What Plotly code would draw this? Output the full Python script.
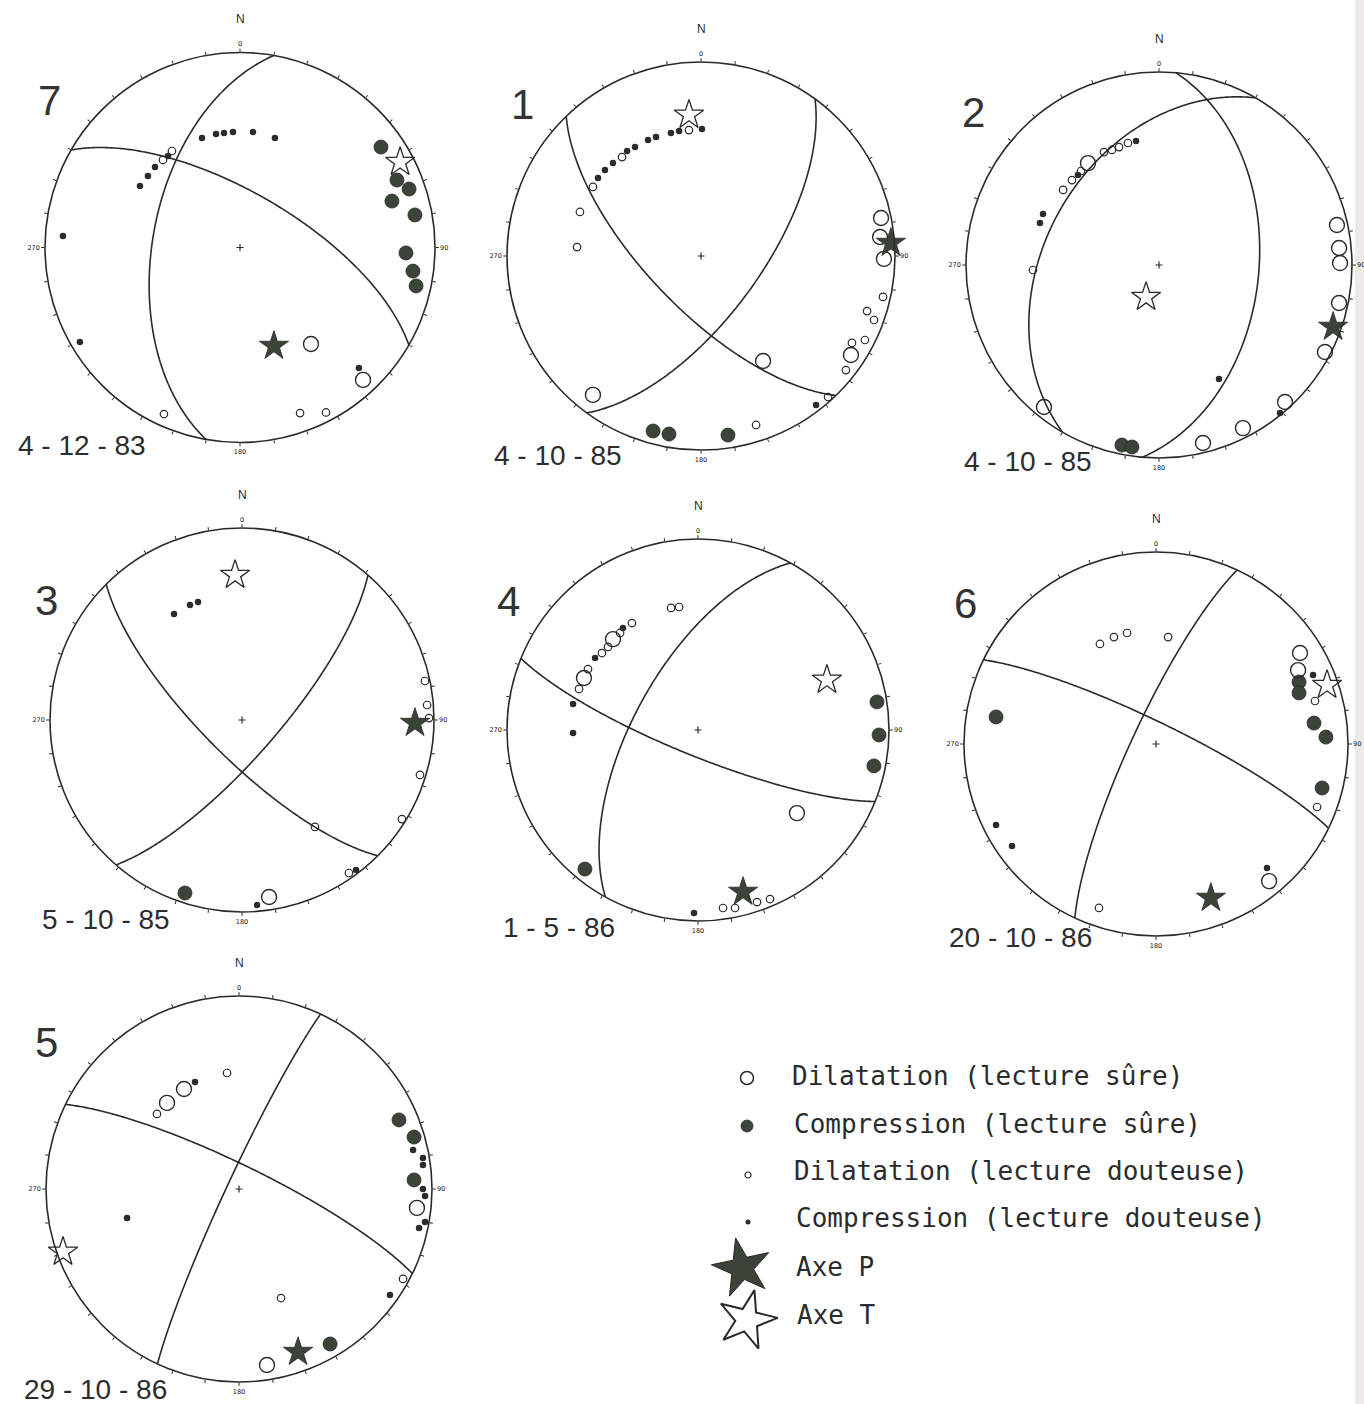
import numpy as np
import plotly.graph_objects as go

# Fault-plane solutions, lower hemisphere, equal-area (Schmidt) net.
# Polarity readings are stored as (east, north) positions on the unit net.

W, H = 1364, 1404

mech_numbers = ["7", "1", "2", "3", "4", "6", "5"]
mech_dates = ["4 - 12 - 83", "4 - 10 - 85", "4 - 10 - 85", "5 - 10 - 85",
              "1 - 5 - 86", "20 - 10 - 86", "29 - 10 - 86"]

# Nodal planes: (strike, dip) in degrees, dip to the right of strike
planes_m7 = [(190, 53), (300, 67)]
planes_m1 = [(136, 68), (36, 65)]
planes_m2 = [(5, 47), (210, 41)]
planes_m3 = [(135, 74), (41, 75)]
planes_m4 = [(112, 79), (209, 63)]
planes_m6 = [(296, 81), (205, 80)]
planes_m5 = [(296, 80), (205, 85)]

# --- mechanism 7 ---
m7_dil_sure = [(0.364, -0.495), (0.631, -0.679)]
m7_comp_sure = [(0.723, 0.515), (0.805, 0.346), (0.867, 0.300), (0.779, 0.238),
                (0.897, 0.167), (0.851, -0.028), (0.887, -0.121), (0.903, -0.197)]
m7_dil_doubt = [(-0.395, 0.449), (-0.349, 0.495), (-0.390, -0.854), (0.308, -0.849),
                (0.441, -0.846)]
m7_comp_doubt = [(-0.195, 0.562), (-0.123, 0.582), (-0.082, 0.587), (-0.036, 0.592),
                 (0.067, 0.592), (0.179, 0.562), (-0.513, 0.315), (-0.472, 0.367),
                 (-0.436, 0.413), (-0.369, 0.469), (-0.908, 0.059), (-0.821, -0.485),
                 (0.610, -0.618)]
m7_p_axis = (0.174, -0.505)
m7_t_axis = (0.821, 0.438)

# --- mechanism 1 ---
m1_dil_sure = [(0.928, 0.196), (0.923, 0.098), (0.943, -0.015), (0.773, -0.510),
               (0.320, -0.541), (-0.557, -0.716)]
m1_comp_sure = [(-0.247, -0.902), (-0.165, -0.918), (0.139, -0.923)]
m1_dil_doubt = [(-0.557, 0.356), (-0.407, 0.510), (-0.062, 0.649), (-0.624, 0.227),
                (-0.639, 0.046), (0.938, -0.211), (0.856, -0.284), (0.892, -0.330),
                (0.845, -0.433), (0.778, -0.448), (0.747, -0.588), (0.655, -0.727),
                (0.284, -0.871)]
m1_comp_doubt = [(-0.531, 0.402), (-0.495, 0.443), (-0.454, 0.479), (-0.381, 0.541),
                 (-0.340, 0.562), (-0.273, 0.598), (-0.232, 0.613), (-0.155, 0.634),
                 (-0.113, 0.644), (0.005, 0.655), (0.593, -0.768)]
m1_p_axis = (0.979, 0.067)
m1_t_axis = (-0.062, 0.727)

# --- mechanism 2 ---
m2_dil_sure = [(-0.368, 0.528), (0.922, 0.207), (0.933, 0.088), (0.938, 0.010),
               (0.933, -0.197), (0.860, -0.451), (0.653, -0.710), (0.435, -0.845),
               (0.228, -0.922), (-0.596, -0.736)]
m2_comp_sure = [(-0.192, -0.933), (-0.140, -0.943)]
m2_dil_doubt = [(-0.497, 0.389), (-0.451, 0.440), (-0.404, 0.487), (-0.285, 0.585),
                (-0.244, 0.596), (-0.207, 0.611), (-0.161, 0.632), (-0.653, -0.026)]
m2_comp_doubt = [(-0.420, 0.466), (-0.119, 0.642), (-0.601, 0.264), (-0.617, 0.218),
                 (0.311, -0.591), (0.627, -0.767)]
m2_p_axis = (0.902, -0.321)
m2_t_axis = (-0.067, -0.166)

# --- mechanism 3 ---
m3_dil_sure = [(0.141, -0.922)]
m3_comp_sure = [(-0.297, -0.901)]
m3_dil_doubt = [(0.953, 0.203), (0.964, 0.078), (0.974, 0.010), (0.927, -0.286),
                (0.833, -0.516), (0.380, -0.557), (0.557, -0.797)]
m3_comp_doubt = [(-0.354, 0.552), (-0.271, 0.599), (-0.229, 0.615), (0.594, -0.781),
                 (0.078, -0.964)]
m3_p_axis = (0.901, -0.016)
m3_t_axis = (-0.036, 0.755)

# --- mechanism 4 ---
m4_dil_sure = [(-0.597, 0.272), (-0.445, 0.476), (0.518, -0.435)]
m4_comp_sure = [(0.937, 0.147), (0.948, -0.026), (0.921, -0.188), (-0.592, -0.728)]
m4_dil_doubt = [(-0.623, 0.215), (-0.576, 0.319), (-0.503, 0.403), (-0.471, 0.435),
                (-0.408, 0.508), (-0.346, 0.560), (-0.141, 0.639), (-0.099, 0.644),
                (0.131, -0.932), (0.194, -0.932), (0.309, -0.901), (0.377, -0.885)]
m4_comp_doubt = [(-0.539, 0.377), (-0.393, 0.534), (-0.654, 0.136), (-0.654, -0.016),
                 (-0.021, -0.958)]
m4_p_axis = (0.236, -0.848)
m4_t_axis = (0.675, 0.262)

# --- mechanism 6 ---
m6_dil_sure = [(0.750, 0.474), (0.740, 0.385), (0.589, -0.714)]
m6_comp_sure = [(0.745, 0.323), (0.745, 0.266), (0.823, 0.109), (0.885, 0.036),
                (0.865, -0.229), (-0.833, 0.141)]
m6_dil_doubt = [(-0.292, 0.521), (-0.219, 0.557), (-0.151, 0.578), (0.063, 0.557),
                (0.828, 0.224), (0.839, -0.328), (-0.297, -0.854)]
m6_comp_doubt = [(0.818, 0.359), (-0.833, -0.422), (-0.750, -0.531), (0.578, -0.646)]
m6_p_axis = (0.286, -0.802)
m6_t_axis = (0.891, 0.307)

# --- mechanism 5 ---
m5_dil_sure = [(-0.285, 0.518), (-0.373, 0.446), (0.922, -0.098), (0.145, -0.912)]
m5_comp_sure = [(0.829, 0.358), (0.907, 0.269), (0.907, 0.047), (0.472, -0.803)]
m5_dil_doubt = [(-0.062, 0.601), (-0.425, 0.389), (0.850, -0.466), (0.218, -0.565)]
m5_comp_doubt = [(-0.228, 0.554), (-0.580, -0.150), (0.902, 0.202), (0.953, 0.161),
                 (0.953, 0.124), (0.953, 0.000), (0.964, -0.036), (0.964, -0.171),
                 (0.933, -0.202), (0.782, -0.549)]
m5_p_axis = (0.306, -0.845)
m5_t_axis = (-0.912, -0.326)

legend_labels = ["Dilatation (lecture sûre)", "Compression (lecture sûre)",
                 "Dilatation (lecture douteuse)", "Compression (lecture douteuse)",
                 "Axe P", "Axe T"]

mechanisms = [
    (planes_m7, m7_dil_sure, m7_comp_sure, m7_dil_doubt, m7_comp_doubt, m7_p_axis, m7_t_axis),
    (planes_m1, m1_dil_sure, m1_comp_sure, m1_dil_doubt, m1_comp_doubt, m1_p_axis, m1_t_axis),
    (planes_m2, m2_dil_sure, m2_comp_sure, m2_dil_doubt, m2_comp_doubt, m2_p_axis, m2_t_axis),
    (planes_m3, m3_dil_sure, m3_comp_sure, m3_dil_doubt, m3_comp_doubt, m3_p_axis, m3_t_axis),
    (planes_m4, m4_dil_sure, m4_comp_sure, m4_dil_doubt, m4_comp_doubt, m4_p_axis, m4_t_axis),
    (planes_m6, m6_dil_sure, m6_comp_sure, m6_dil_doubt, m6_comp_doubt, m6_p_axis, m6_t_axis),
    (planes_m5, m5_dil_sure, m5_comp_sure, m5_dil_doubt, m5_comp_doubt, m5_p_axis, m5_t_axis),
]

# page placement of each net: centre x, centre y, radius (pixels)
net_boxes = [(240, 247.5, 195), (701, 256, 194), (1159, 265, 193),
             (242, 720, 192), (698, 730, 191), (1156, 744, 192),
             (239, 1189, 193)]
number_pos = [(49, 100), (522, 105), (973, 113), (47, 600), (508, 602),
              (965, 603), (47, 1042)]
date_pos = [(16, 445), (492, 455), (962, 462), (40, 919), (501, 928),
            (947, 937), (22, 1389)]

INK = "#2a2a2a"
FILL = "#3c4339"


def great_circle(strike, dip, n=241):
    """Equal-area trace of a plane: returns radius (0-1) and azimuth (deg)."""
    lam = np.radians(np.linspace(0, 180, n))
    s, d = np.radians(strike), np.radians(dip)
    sv = np.array([np.sin(s), np.cos(s), 0.0])
    dd = s + np.pi / 2
    dv = np.array([np.cos(d) * np.sin(dd), np.cos(d) * np.cos(dd), np.sin(d)])
    w = np.outer(np.cos(lam), sv) + np.outer(np.sin(lam), dv)
    plunge = np.arcsin(np.clip(w[:, 2], -1, 1))
    trend = np.degrees(np.arctan2(w[:, 0], w[:, 1])) % 360
    r = np.sqrt(2) * np.sin((np.pi / 2 - plunge) / 2)
    return r, trend


def to_polar(points):
    pts = np.array(points, dtype=float).reshape(-1, 2)
    r = np.hypot(pts[:, 0], pts[:, 1])
    th = np.degrees(np.arctan2(pts[:, 0], pts[:, 1])) % 360
    return r, th


fig = go.Figure()
layout_polars = {}
annotations = []

tick_vals = list(range(0, 360, 10))
tick_text = [{0: "0", 90: "90", 180: "180", 270: "270"}.get(v, "") for v in tick_vals]

for i, (mech, box) in enumerate(zip(mechanisms, net_boxes)):
    planes, dil_s, comp_s, dil_d, comp_d, p_ax, t_ax = mech
    cx, cy, R = box
    key = "polar" if i == 0 else f"polar{i + 1}"
    sub = "polar" if i == 0 else f"polar{i + 1}"
    layout_polars[key] = dict(
        domain=dict(x=[(cx - R) / W, (cx + R) / W],
                    y=[1 - (cy + R) / H, 1 - (cy - R) / H]),
        bgcolor="rgba(0,0,0,0)",
        radialaxis=dict(visible=False, range=[0, 1]),
        angularaxis=dict(direction="clockwise", rotation=90, showgrid=False,
                         showline=True, linecolor=INK, linewidth=1.6,
                         ticks="outside", ticklen=3, tickwidth=1, tickcolor=INK,
                         tickmode="array", tickvals=tick_vals, ticktext=tick_text,
                         tickfont=dict(size=6.5, color="#111111", family="DejaVu Sans")),
    )

    for strike, dip in planes:
        r, th = great_circle(strike, dip)
        fig.add_trace(go.Scatterpolar(r=r, theta=th, mode="lines", subplot=sub,
                                      line=dict(color=INK, width=1.6),
                                      showlegend=False, hoverinfo="skip"))

    # centre cross
    fig.add_trace(go.Scatterpolar(r=[0], theta=[0], mode="markers", subplot=sub,
                                  marker=dict(symbol="cross-thin", size=5,
                                              line=dict(color=INK, width=1.2)),
                                  showlegend=False, hoverinfo="skip"))

    r, th = to_polar(comp_s)
    fig.add_trace(go.Scatterpolar(r=r, theta=th, mode="markers", subplot=sub, cliponaxis=False,
                                  marker=dict(symbol="circle", size=14, color=FILL,
                                              line=dict(color="#262a25", width=0.8)),
                                  showlegend=False))
    r, th = to_polar(comp_d)
    fig.add_trace(go.Scatterpolar(r=r, theta=th, mode="markers", subplot=sub, cliponaxis=False,
                                  marker=dict(symbol="circle", size=6.5, color="#2b2b2b"),
                                  showlegend=False))
    r, th = to_polar(dil_s)
    fig.add_trace(go.Scatterpolar(r=r, theta=th, mode="markers", subplot=sub, cliponaxis=False,
                                  marker=dict(symbol="circle-open", size=15, color=INK,
                                              line=dict(width=1.4)),
                                  showlegend=False))
    r, th = to_polar(dil_d)
    fig.add_trace(go.Scatterpolar(r=r, theta=th, mode="markers", subplot=sub, cliponaxis=False,
                                  marker=dict(symbol="circle-open", size=7.5, color=INK,
                                              line=dict(width=1.2)),
                                  showlegend=False))
    r, th = to_polar([p_ax])
    fig.add_trace(go.Scatterpolar(r=r, theta=th, mode="markers", subplot=sub, cliponaxis=False,
                                  marker=dict(symbol="star", size=22, color=FILL,
                                              line=dict(color="#262a25", width=0.8)),
                                  showlegend=False))
    r, th = to_polar([t_ax])
    fig.add_trace(go.Scatterpolar(r=r, theta=th, mode="markers", subplot=sub, cliponaxis=False,
                                  marker=dict(symbol="star", size=22, color="white",
                                              line=dict(color=INK, width=1.3)),
                                  showlegend=False))

    # north label, event number, date
    annotations.append(dict(x=cx / W, y=1 - (cy - R - 33) / H, xref="paper", yref="paper",
                            text="N", showarrow=False, xanchor="center", yanchor="middle",
                            font=dict(size=12, color=INK, family="Liberation Sans")))
    nx, ny = number_pos[i]
    annotations.append(dict(x=nx / W, y=1 - ny / H, xref="paper", yref="paper",
                            text=mech_numbers[i], showarrow=False, xanchor="center",
                            yanchor="middle",
                            font=dict(size=42, color="#333333", family="Liberation Sans")))
    dx, dy = date_pos[i]
    annotations.append(dict(x=dx / W, y=1 - dy / H, xref="paper", yref="paper",
                            text=mech_dates[i], showarrow=False, xanchor="left",
                            yanchor="middle",
                            font=dict(size=28, color="#2d2d2d", family="Liberation Sans")))

# --- key to symbols (drawn on a page-sized cartesian overlay) ---
key_rows_y = [1078, 1126, 1175, 1222, 1268, 1320]
key_text_x = [790, 792, 792, 794, 794, 795]
key_text_y = [1076, 1124, 1171, 1218, 1267, 1315]
key_styles = [
    dict(x=747, marker=dict(symbol="circle-open", size=13, color=INK, line=dict(width=1.5))),
    dict(x=747, marker=dict(symbol="circle", size=12, color=FILL, line=dict(color="#262a25", width=0.8))),
    dict(x=748, marker=dict(symbol="circle-open", size=6, color=INK, line=dict(width=1.2))),
    dict(x=748, marker=dict(symbol="circle", size=5, color="#2b2b2b")),
    dict(x=742, marker=dict(symbol="star", size=44, color=FILL, angle=-12,
                             line=dict(color="#262a25", width=1))),
    dict(x=747, marker=dict(symbol="star", size=44, color="white", angle=14,
                             line=dict(color=INK, width=2))),
]
for style, y_row, label, tx, ty in zip(key_styles, key_rows_y, legend_labels,
                                        key_text_x, key_text_y):
    fig.add_trace(go.Scatter(x=[style["x"]], y=[y_row], mode="markers",
                             marker=style["marker"], xaxis="x", yaxis="y",
                             showlegend=False, hoverinfo="skip", cliponaxis=False))
    annotations.append(dict(x=tx / W, y=1 - ty / H, xref="paper", yref="paper",
                            text=label, showarrow=False, xanchor="left", yanchor="middle",
                            font=dict(size=26, color="#2b2b2b", family="DejaVu Sans Mono")))

fig.update_layout(
    width=W, height=H,
    margin=dict(l=0, r=0, t=0, b=0),
    paper_bgcolor="white", plot_bgcolor="rgba(0,0,0,0)",
    showlegend=False,
    xaxis=dict(domain=[0, 1], range=[0, W], visible=False, fixedrange=True),
    yaxis=dict(domain=[0, 1], range=[H, 0], visible=False, fixedrange=True),
    annotations=annotations,
    shapes=[dict(type="rect", xref="paper", yref="paper", x0=1355 / W, x1=1,
                 y0=0, y1=1, fillcolor="#ecebe7", line=dict(width=0), layer="below")],
    **layout_polars,
)

fig.write_html("out.html")
